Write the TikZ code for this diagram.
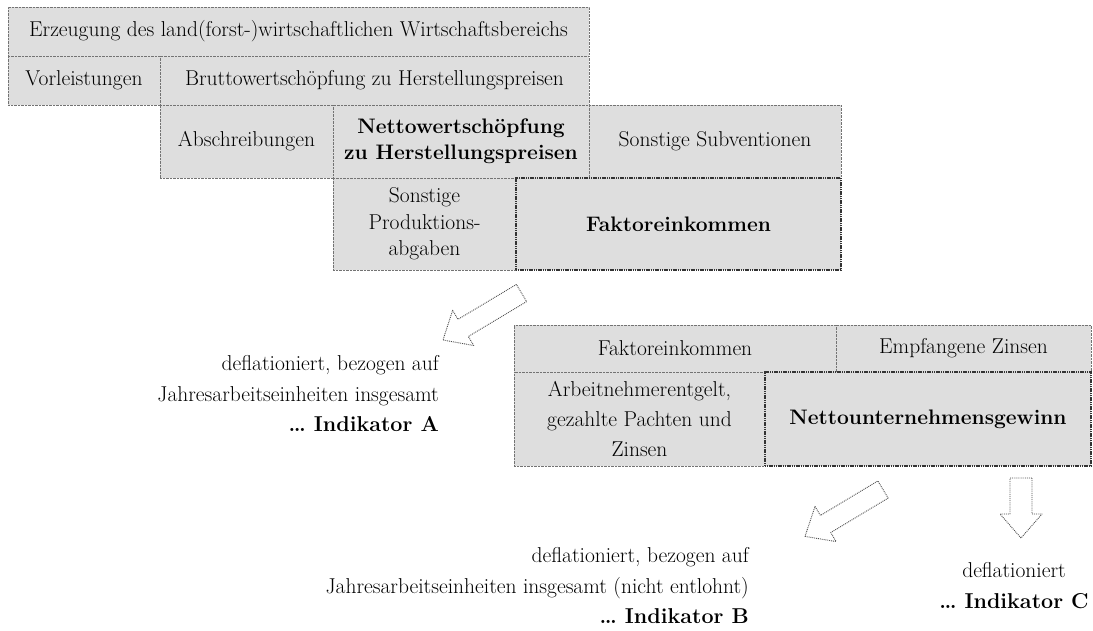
\documentclass[tikz,border=0pt]{standalone}
\begin{document}
\begin{tikzpicture}[x=1pt,y=-1pt,
  cell/.style={draw=black!55, densely dotted, fill=black!13, inner sep=0pt, outer sep=0pt,
    font=\fontsize{21.5}{26}\selectfont, align=center, text=black},
  strong/.style={cell, font=\fontsize{21}{26}\selectfont\bfseries},
  framed/.style={strong, draw=black!80, solid, line width=1.4pt, dash pattern=on 1.2pt off 0.6pt},
  note/.style={inner sep=0pt, font=\fontsize{21.5}{30.5}\selectfont, text=black},
  hollow/.style={draw=black!70, densely dotted, line width=0.9pt, fill=white, line join=round}
]
\useasboundingbox (0,0) rectangle (1093,630);
% upper block
\node[cell, minimum width=581, minimum height=49] (erz) at (298.5,31.5)
  {Erzeugung des land(forst-)wirtschaftlichen Wirtschaftsbereichs};
\node[cell, minimum width=152, minimum height=49] (vor) at (84,80.5) {Vorleistungen};
\node[cell, minimum width=429, minimum height=49] (bru) at (374.5,80.5)
  {Bruttowertschöpfung zu Herstellungspreisen};
\node[cell, minimum width=173, minimum height=73] (abs) at (246.5,141.5) {Abschreibungen};
\node[strong, minimum width=256, minimum height=73] (net) at (461,141.5)
  {Nettowertschöpfung\\zu Herstellungspreisen};
\node[cell, minimum width=252, minimum height=73] (sub) at (715,141.5) {Sonstige Subventionen};
\node[cell, minimum width=183, minimum height=92, font=\fontsize{21.5}{26.5}\selectfont] (spa) at (424.5,224)
  {Sonstige\\Produktions-\\abgaben};
\node[framed, minimum width=325, minimum height=92] (fak) at (678.5,224) {Faktoreinkommen};
% lower block
\node[cell, minimum width=322, minimum height=47] (fak2) at (675,348.5) {Faktoreinkommen};
\node[cell, minimum width=255, minimum height=47] (emp) at (963.5,348.5) {Empfangene Zinsen};
\node[cell, minimum width=251, minimum height=94, font=\fontsize{21.5}{30}\selectfont] (arb) at (639.5,419)
  {Arbeitnehmerentgelt,\\gezahlte Pachten und\\Zinsen};
\node[framed, minimum width=326, minimum height=94] (nug) at (928,419) {Nettounternehmensgewinn};
% block arrows
\begin{scope}[shift={(521.5,293)}, rotate=210.9]
  \draw[hollow] (0,-10) -- (68,-10) -- (68,-20.5) -- (91.5,0) -- (68,20.5) -- (68,10) -- (0,10) -- cycle;
\end{scope}
\begin{scope}[shift={(883,489.5)}, rotate=211]
  \draw[hollow] (0,-10) -- (67,-10) -- (67,-20.5) -- (91,0) -- (67,20.5) -- (67,10) -- (0,10) -- cycle;
\end{scope}
\begin{scope}[shift={(1021,478)}, rotate=270]
  \draw[hollow] (0,-11) -- (36,-11) -- (36,-21) -- (60,0) -- (36,21) -- (36,11) -- (0,11) -- cycle;
\end{scope}
% notes
\node[note, align=right, anchor=east] (txA) at (439,394)
  {deflationiert, bezogen auf\\Jahresarbeitseinheiten insgesamt\\\textbf{\dots\ Indikator A}};
\node[note, align=right, anchor=east] (txB) at (749,586)
  {deflationiert, bezogen auf\\Jahresarbeitseinheiten insgesamt (nicht entlohnt)\\\textbf{\dots\ Indikator B}};
\node[note, align=center, font=\fontsize{21.5}{31}\selectfont] (txC) at (1014,586)
  {deflationiert\\\textbf{\dots\ Indikator C}};
\end{tikzpicture}
\end{document}
